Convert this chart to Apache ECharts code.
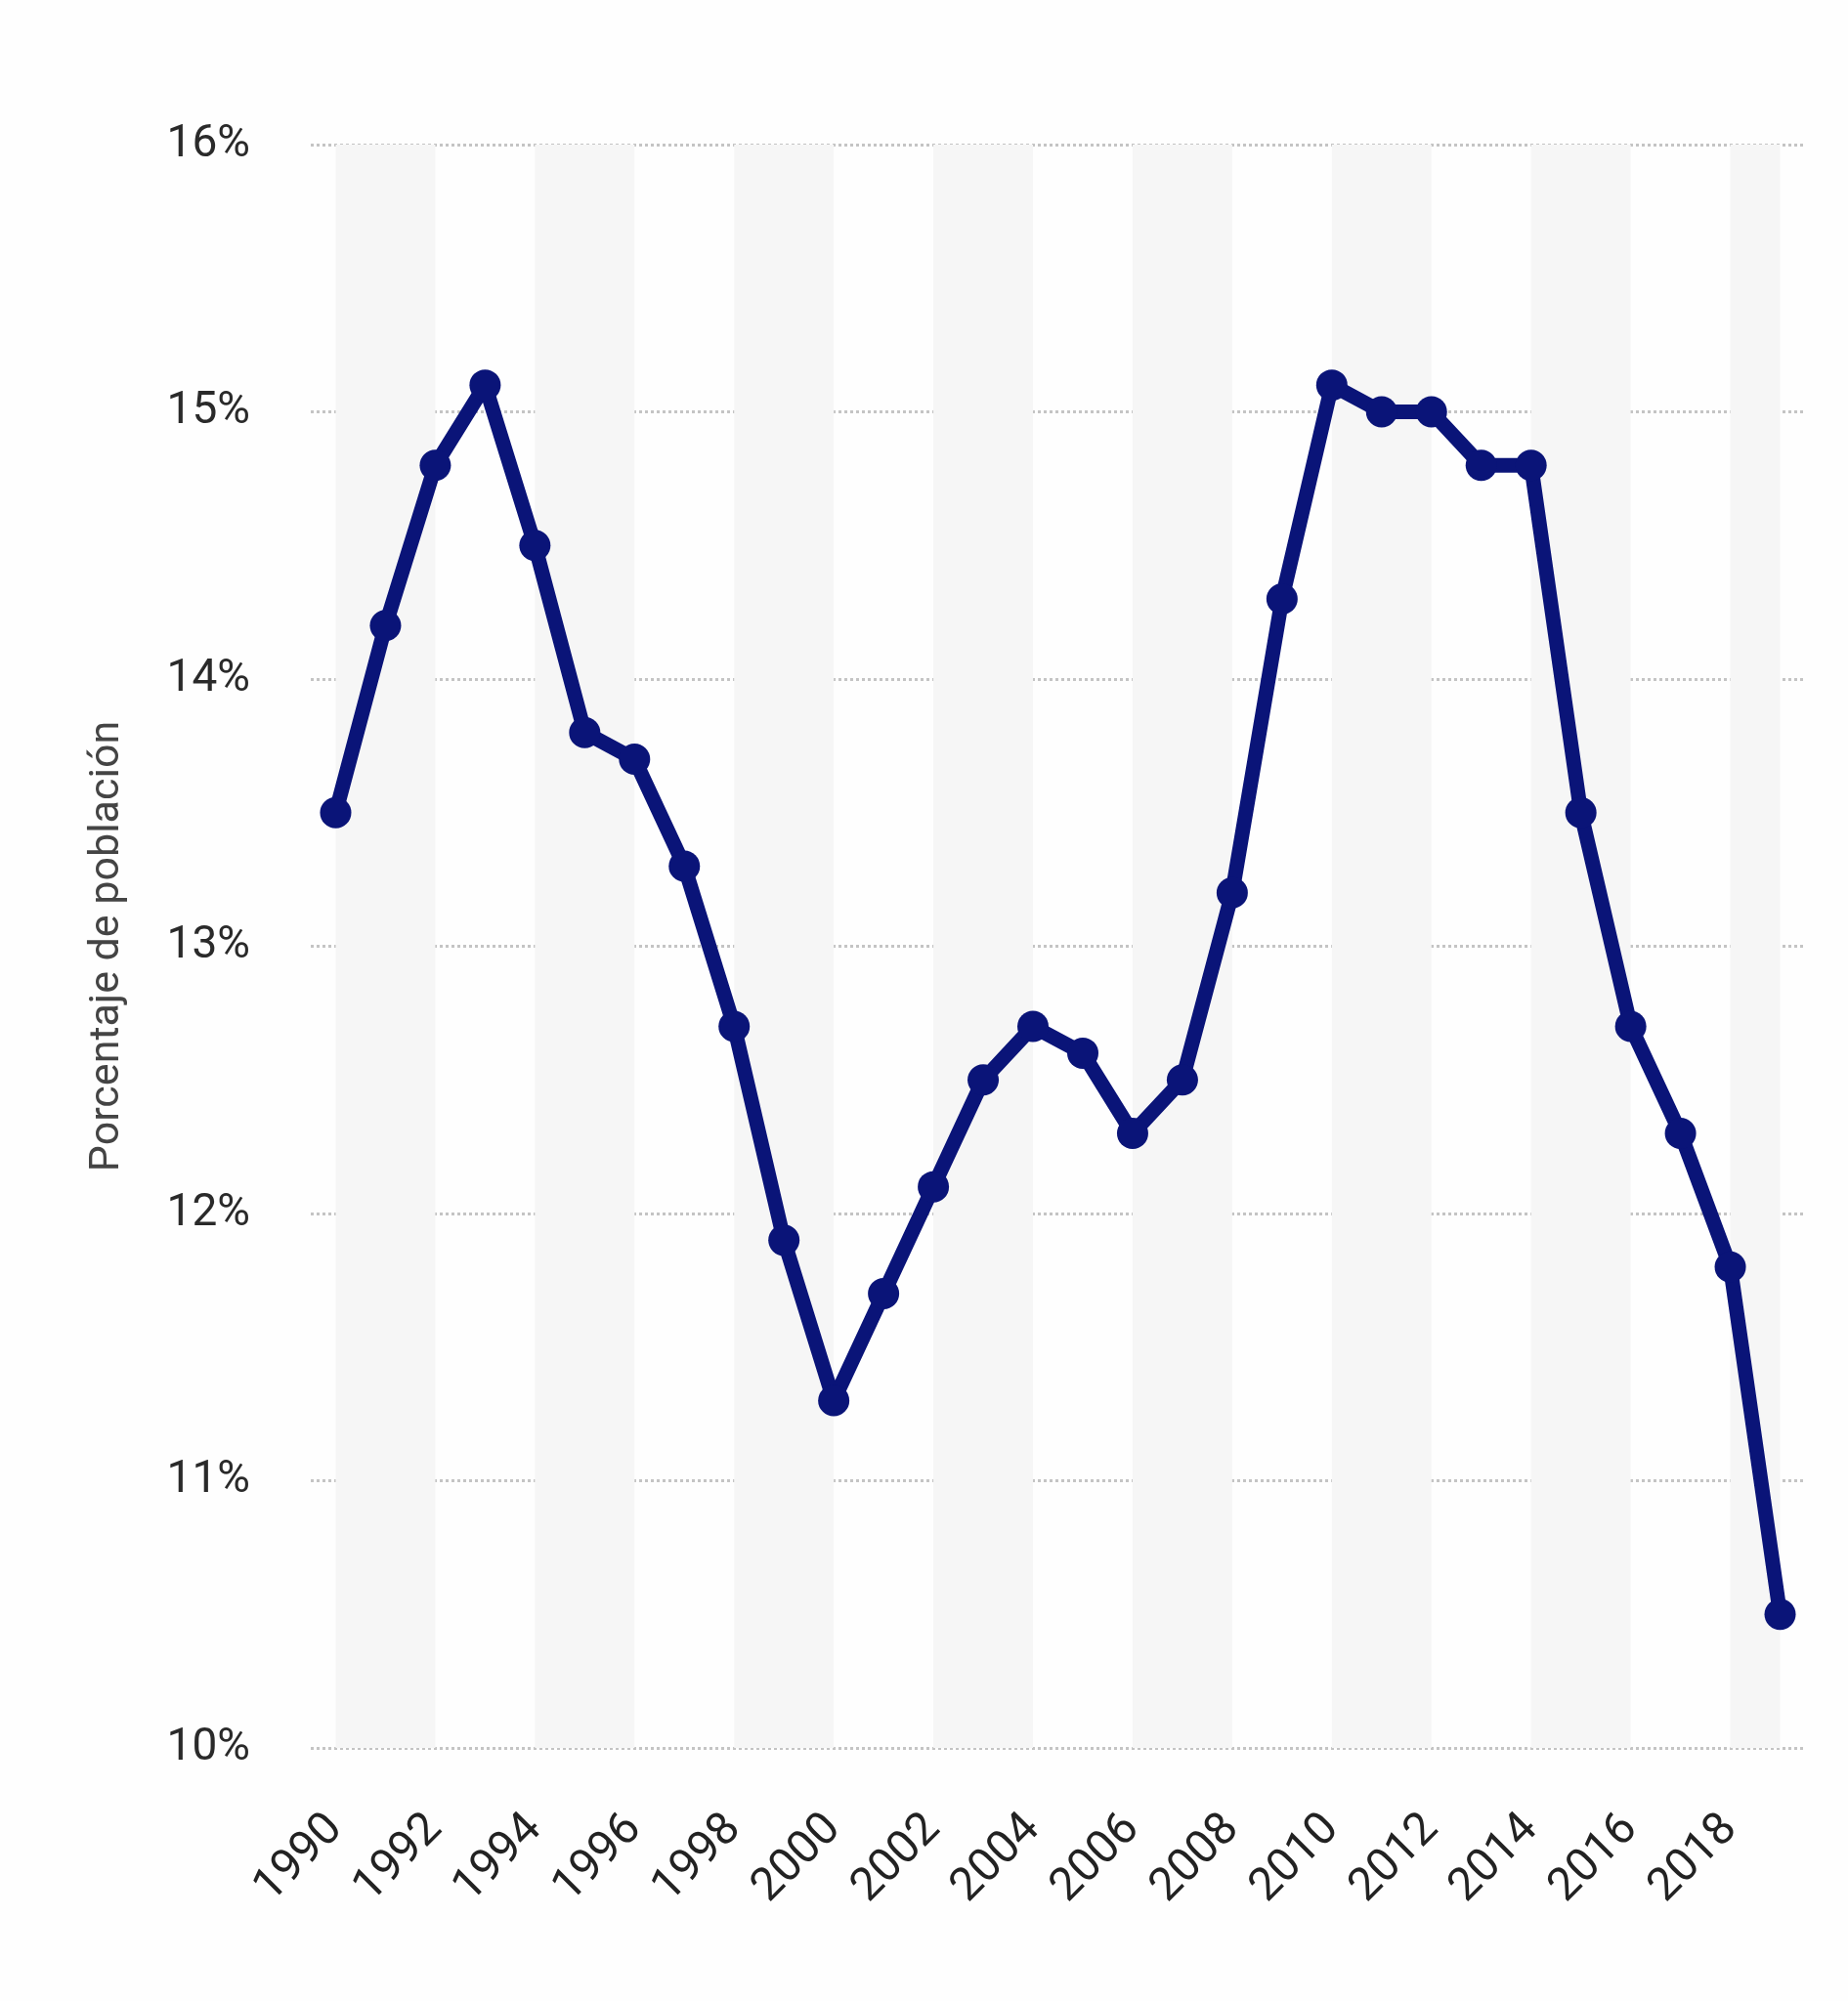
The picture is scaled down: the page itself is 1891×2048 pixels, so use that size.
<!DOCTYPE html>
<html>
<head>
<meta charset="utf-8">
<script src="https://cdn.jsdelivr.net/npm/echarts@6/dist/echarts.min.js"></script>
<style>
html,body{margin:0;padding:0;background:#fefefe;}
#chart{width:1891px;height:2048px;}
</style>
</head>
<body>
<div id="chart"></div>
<script>
const years = ['1990','1991','1992','1993','1994','1995','1996','1997','1998','1999','2000','2001','2002','2003','2004','2005','2006','2007','2008','2009','2010','2011','2012','2013','2014','2015','2016','2017','2018','2019'];
const values = [13.5,14.2,14.8,15.1,14.5,13.8,13.7,13.3,12.7,11.9,11.3,11.7,12.1,12.5,12.7,12.6,12.3,12.5,13.2,14.3,15.1,15.0,15.0,14.8,14.8,13.5,12.7,12.3,11.8,10.5];
const bandStarts = ['1990','1994','1998','2002','2006','2010','2014','2018'];
const bandEnds   = ['1992','1996','2000','2004','2008','2012','2016','2019'];
const yTicks = [10,11,12,13,14,15,16];
const yAxisName = 'Porcentaje de población';

const chart = echarts.init(document.getElementById('chart'), null, {renderer:'canvas'});
const bands = bandStarts.map((s,i)=>[{xAxis:s},{xAxis:bandEnds[i]}]);
chart.setOption({
  backgroundColor:'#fefefe',
  animation:false,
  grid:{left:318,right:44,top:148,bottom:259,containLabel:false},
  xAxis:{
    type:'category',
    data:years,
    boundaryGap:true,
    axisLine:{show:false},
    axisTick:{show:false},
    axisLabel:{
      interval:1,
      rotate:45,
      margin:76,
      fontFamily:'Roboto',
      fontSize:47,
      color:'#222'
    },
    splitLine:{show:false}
  },
  yAxis:{
    type:'value',
    min:yTicks[0],
    max:yTicks[yTicks.length-1],
    interval:1,
    name:yAxisName,
    nameLocation:'middle',
    nameGap:186,
    nameRotate:90,
    nameTextStyle:{fontFamily:'Roboto',fontSize:43,color:'#444'},
    axisLine:{show:false},
    axisTick:{show:false},
    axisLabel:{
      formatter:v=>v+'%',
      fontFamily:'Roboto',
      fontSize:46,
      color:'#2a2a2a',
      margin:62,
      padding:[12,0,0,0]
    },
    splitLine:{show:true,lineStyle:{color:'#c4c4c4',width:3,type:[3,3]}}
  },
  series:[{
    type:'line',
    data:values,
    symbol:'circle',
    symbolSize:32,
    lineStyle:{color:'#0a1478',width:15},
    itemStyle:{color:'#0a1478'},
    z:5,
    markArea:{
      silent:true,
      itemStyle:{color:'#f6f6f6'},
      data:bands,
      z:0
    }
  }]
});
</script>
</body>
</html>
